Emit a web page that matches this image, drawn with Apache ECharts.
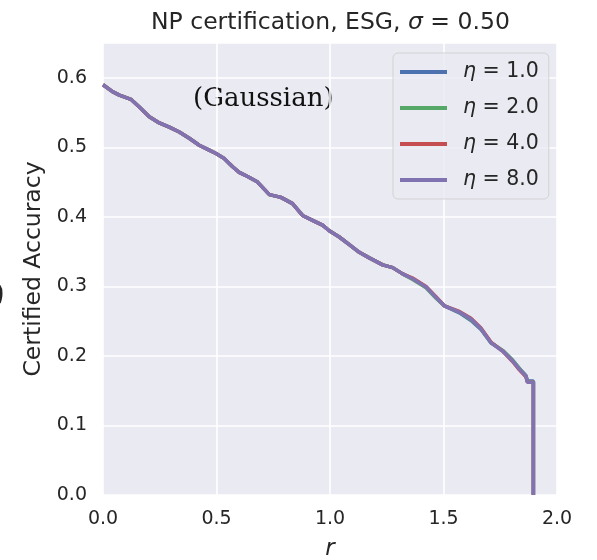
<!DOCTYPE html>
<html>
<head>
<meta charset="utf-8">
<script src="https://cdn.jsdelivr.net/npm/echarts@6/dist/echarts.min.js"></script>
<style>
  html, body { margin: 0; padding: 0; background: #fff; }
  #chart { width: 597px; height: 560px; }
</style>
</head>
<body>
<div id="chart"></div>
<script>
// radius r (shared by all curves)
var radius = [0.000, 0.042, 0.072, 0.123, 0.160, 0.204, 0.248, 0.292, 0.336, 0.380,
  0.424, 0.468, 0.498, 0.534, 0.571, 0.600, 0.637, 0.681, 0.733, 0.784,
  0.835, 0.879, 0.923, 0.967, 0.997, 1.041, 1.085, 1.129, 1.173, 1.232,
  1.276, 1.320, 1.364, 1.423, 1.467, 1.504, 1.570, 1.621, 1.665, 1.709,
  1.760, 1.804, 1.834, 1.863, 1.870, 1.896, 1.896];

// certified accuracy for each eta
var accEta1 = [0.590, 0.580, 0.575, 0.569, 0.558, 0.544, 0.535, 0.529, 0.522, 0.513,
  0.503, 0.496, 0.491, 0.484, 0.472, 0.464, 0.458, 0.450, 0.432, 0.428,
  0.419, 0.402, 0.395, 0.388, 0.380, 0.371, 0.360, 0.349, 0.341, 0.331,
  0.327, 0.318, 0.311, 0.299, 0.284, 0.272, 0.262, 0.251, 0.238, 0.219,
  0.208, 0.194, 0.182, 0.172, 0.164, 0.164, 0.000];
var accEta2 = [0.590, 0.580, 0.575, 0.569, 0.558, 0.544, 0.535, 0.529, 0.522, 0.513,
  0.503, 0.496, 0.491, 0.484, 0.472, 0.464, 0.458, 0.450, 0.432, 0.428,
  0.419, 0.402, 0.395, 0.388, 0.380, 0.371, 0.360, 0.349, 0.341, 0.331,
  0.327, 0.318, 0.310, 0.298, 0.283, 0.272, 0.263, 0.252, 0.239, 0.219,
  0.208, 0.194, 0.182, 0.171, 0.163, 0.163, 0.000];
var accEta4 = [0.590, 0.580, 0.575, 0.569, 0.558, 0.544, 0.535, 0.529, 0.522, 0.513,
  0.503, 0.496, 0.491, 0.484, 0.472, 0.464, 0.458, 0.450, 0.432, 0.428,
  0.419, 0.402, 0.395, 0.388, 0.380, 0.371, 0.360, 0.349, 0.341, 0.331,
  0.327, 0.318, 0.312, 0.300, 0.285, 0.272, 0.264, 0.254, 0.240, 0.220,
  0.207, 0.192, 0.180, 0.170, 0.162, 0.162, 0.000];
var accEta8 = [0.590, 0.580, 0.575, 0.569, 0.558, 0.544, 0.535, 0.529, 0.522, 0.513,
  0.503, 0.496, 0.491, 0.484, 0.472, 0.464, 0.458, 0.450, 0.432, 0.428,
  0.419, 0.402, 0.395, 0.388, 0.380, 0.371, 0.360, 0.349, 0.341, 0.331,
  0.327, 0.318, 0.311, 0.299, 0.284, 0.272, 0.263, 0.253, 0.239, 0.219,
  0.207, 0.193, 0.181, 0.171, 0.162, 0.162, 0.000];

var seriesNames = ['η = 1.0', 'η = 2.0', 'η = 4.0', 'η = 8.0'];
var etaLabels = ['1.0', '2.0', '4.0', '8.0'];
var colors = ['#4C72B0', '#55A868', '#C44E52', '#8172B2'];
var yTicks = [0.0, 0.1, 0.2, 0.3, 0.4, 0.5, 0.6];

function pairs(xs, ys) {
  return xs.map(function (x, i) { return [x, ys[i]]; });
}

var allAcc = [accEta1, accEta2, accEta4, accEta8];
var font = '"DejaVu Sans", sans-serif';
var textColor = '#262626';

var chart = echarts.init(document.getElementById('chart'));
var option = {
  animation: false,
  color: colors,
  title: {
    text: 'NP certification, ESG, {i|σ} = 0.50',
    left: 146,
    top: 6,
    textStyle: {
      fontFamily: font, fontSize: 23.5, fontWeight: 'normal', color: textColor,
      rich: { i: { fontFamily: font, fontSize: 23.5, fontStyle: 'italic', color: textColor } }
    }
  },
  legend: {
    orient: 'vertical',
    left: 393,
    top: 53,
    padding: [8, 10, 8, 7],
    itemGap: 14,
    itemWidth: 47,
    itemHeight: 4,
    icon: 'rect',
    backgroundColor: 'rgba(234,234,242,0.8)',
    borderColor: 'rgba(204,204,204,0.8)',
    borderWidth: 1,
    borderRadius: 5,
    data: seriesNames,
    formatter: function (name) {
      return '{s|}{i|η} = ' + etaLabels[seriesNames.indexOf(name)];
    },
    textStyle: {
      fontFamily: font, fontSize: 20.5, color: textColor, lineHeight: 22,
      rich: {
        s: { width: 11 },
        i: { fontFamily: font, fontSize: 20.5, fontStyle: 'italic', color: textColor }
      }
    }
  },
  grid: {
    left: 103, right: 40, top: 43, bottom: 65,
    outerBoundsMode: 'none',
    containLabel: false,
    show: true, backgroundColor: '#EAEAF2', borderWidth: 0
  },
  xAxis: {
    type: 'value',
    min: 0, max: 2, interval: 0.5,
    name: 'r',
    nameLocation: 'middle',
    nameGap: 43,
    nameTextStyle: { fontFamily: font, fontSize: 23, fontStyle: 'italic', color: textColor },
    axisLine: { show: false },
    axisTick: { show: false },
    axisLabel: {
      fontFamily: font, fontSize: 19, color: textColor, margin: 15,
      formatter: function (v) { return v.toFixed(1); }
    },
    splitLine: { lineStyle: { color: '#ffffff', width: 1.6 } }
  },
  yAxis: {
    type: 'value',
    min: 0, max: 0.65, interval: 0.1,
    name: 'Certified Accuracy',
    nameLocation: 'middle',
    nameGap: 57,
    nameTextStyle: { fontFamily: font, fontSize: 23.5, color: textColor },
    axisLine: { show: false },
    axisTick: { show: false },
    axisLabel: {
      fontFamily: font, fontSize: 19, color: textColor, margin: 16,
      formatter: function (v) {
        var hit = yTicks.filter(function (t) { return Math.abs(t - v) < 1e-6; });
        return hit.length ? v.toFixed(1) : '';
      }
    },
    splitLine: { lineStyle: { color: '#ffffff', width: 1.6 } }
  },
  graphic: [
    {
      type: 'text', left: 193, top: 86,
      style: { text: '(Gaussian)', font: '26px "DejaVu Serif", serif', fill: '#111111' }
    },
    {
      type: 'text', x: -7, y: 293, rotation: Math.PI / 2,
      style: { text: 'S', font: 'bold 36px "DejaVu Sans", sans-serif', align: 'center', verticalAlign: 'middle', fill: textColor }
    }
  ],
  series: seriesNames.map(function (name, k) {
    return {
      name: name,
      type: 'line',
      symbol: 'none',
      data: pairs(radius, allAcc[k]),
      lineStyle: { width: 3.5 },
      z: 2 + k
    };
  })
};
chart.setOption(option);
</script>
</body>
</html>
